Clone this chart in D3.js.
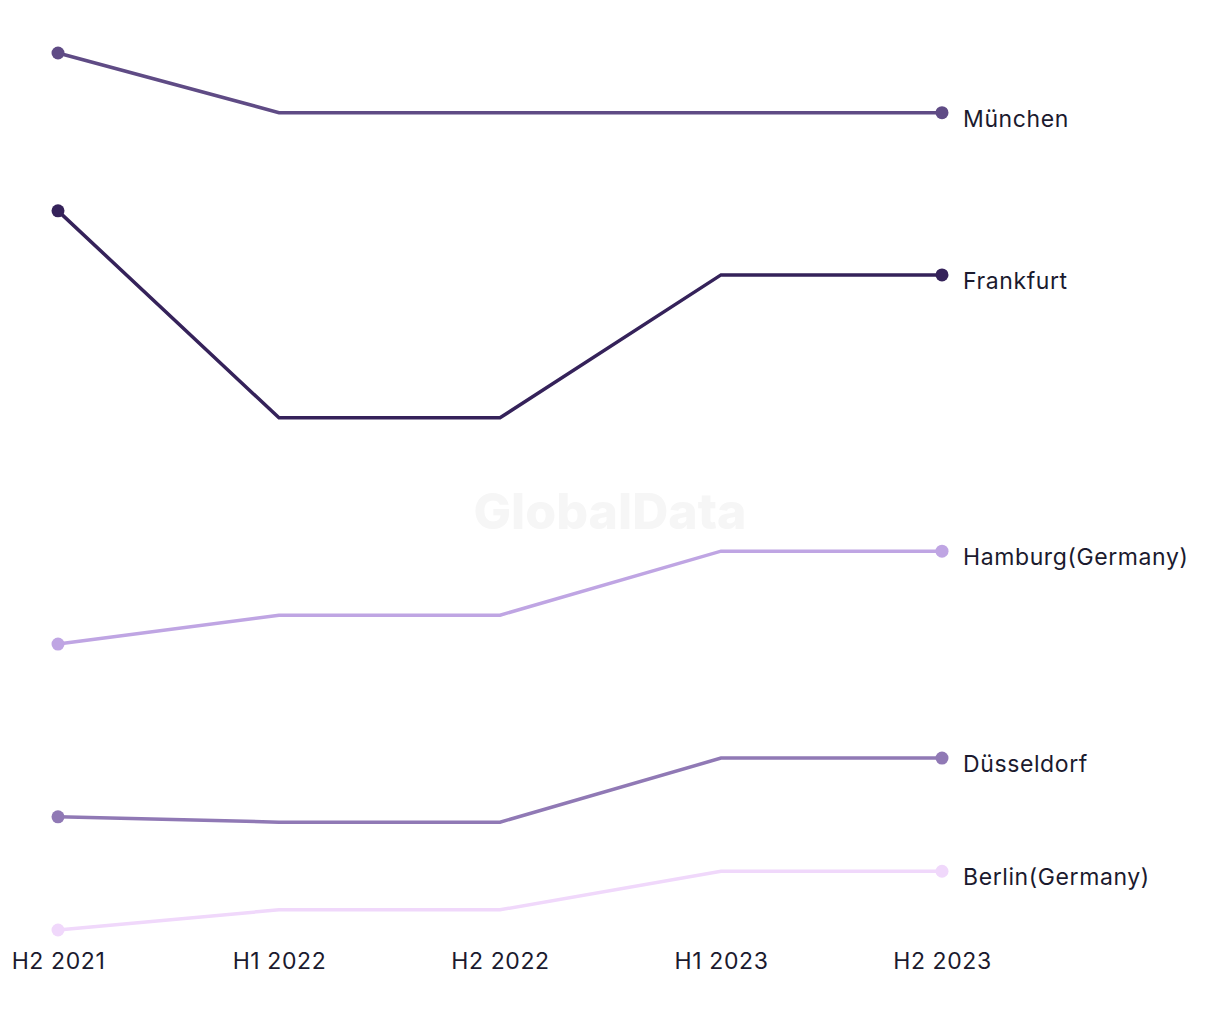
<!DOCTYPE html>
<html>
<head>
<meta charset="utf-8">
<script src="https://cdn.jsdelivr.net/npm/d3@7"></script>
<style>
  body { margin: 0; background: #fff; }
  svg text { font-family: Inter, "Noto Sans", sans-serif; }
</style>
</head>
<body>
<svg id="chart" width="1220" height="1020"></svg>
<script>
// index values (no axis shown)
var periods = ["H2 2021", "H1 2022", "H2 2022", "H1 2023", "H2 2023"];
var cities = ["München", "Frankfurt", "Hamburg(Germany)", "Düsseldorf", "Berlin(Germany)"];
var colors = ["#5f4b85", "#35225a", "#bfa5e3", "#9079b5", "#f0d8fb"];
var munchen = [100, 93.2, 93.2, 93.2, 93.2];
var frankfurt = [82.0, 58.4, 58.4, 74.7, 74.7];
var hamburg = [32.6, 35.9, 35.9, 43.2, 43.2];
var dusseldorf = [12.9, 12.3, 12.3, 19.6, 19.6];
var berlin = [0, 2.3, 2.3, 6.7, 6.7];

var seriesValues = [munchen, frankfurt, hamburg, dusseldorf, berlin];

var svg = d3.select("#chart");

var x = d3.scalePoint()
    .domain(periods)
    .range([58, 942]);

var y = d3.scaleLinear()
    .domain([0, 100])
    .range([930, 53]);

// watermark
svg.append("text")
    .attr("x", 610)
    .attr("y", 529)
    .attr("text-anchor", "middle")
    .attr("font-size", 50)
    .attr("font-weight", 800)
    .attr("fill", "#f6f6f6")
    .text("GlobalData");

var line = d3.line()
    .x(function (d, i) { return x(periods[i]); })
    .y(function (d) { return y(d); });

var series = cities.map(function (c, i) {
    return { name: c, color: colors[i], values: seriesValues[i] };
});

var g = svg.selectAll(".series")
    .data(series)
    .enter().append("g")
    .attr("class", "series");

g.append("path")
    .attr("d", function (d) { return line(d.values); })
    .attr("fill", "none")
    .attr("stroke", function (d) { return d.color; })
    .attr("stroke-width", 3.5);

g.append("circle")
    .attr("cx", x(periods[0]))
    .attr("cy", function (d) { return y(d.values[0]); })
    .attr("r", 6.5)
    .attr("fill", function (d) { return d.color; });

g.append("circle")
    .attr("cx", x(periods[periods.length - 1]))
    .attr("cy", function (d) { return y(d.values[d.values.length - 1]); })
    .attr("r", 6.5)
    .attr("fill", function (d) { return d.color; });

g.append("text")
    .attr("x", x(periods[periods.length - 1]) + 21)
    .attr("y", function (d) { return y(d.values[d.values.length - 1]) + 14; })
    .attr("font-size", 23)
    .attr("letter-spacing", 0.6)
    .attr("fill", "#1b1a2e")
    .text(function (d) { return d.name; });

// x axis labels
var xAxis = d3.axisBottom(x).tickSize(0).tickPadding(0);
var ax = svg.append("g")
    .attr("transform", "translate(0,953)")
    .call(xAxis);
ax.select(".domain").remove();
ax.selectAll("text")
    .attr("font-size", 23)
    .attr("letter-spacing", 0.6)
    .attr("fill", "#1b1a2e")
    .attr("dy", "0.71em");
</script>
</body>
</html>
